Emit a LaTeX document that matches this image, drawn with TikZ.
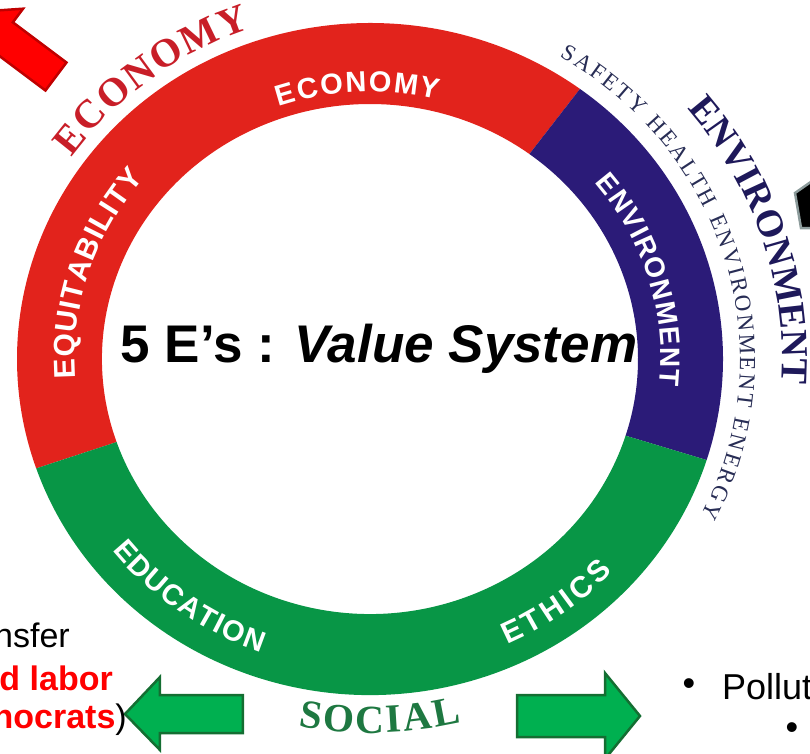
\documentclass[tikz,border=0pt]{standalone}
\usepackage{fontspec}
\setmainfont{Liberation Sans}
\newfontfamily\labserif{Liberation Serif}
\usetikzlibrary{shapes, arrows, calc, positioning, decorations.text}

\definecolor{ringred}{RGB}{226,35,28}
\definecolor{ringblue}{RGB}{43,27,120}
\definecolor{ringgreen}{RGB}{8,150,70}
\definecolor{ecored}{RGB}{200,30,40}
\definecolor{envnavy}{RGB}{30,25,90}
\definecolor{smallnavy}{RGB}{40,45,85}
\definecolor{socgreen}{RGB}{30,120,65}
\definecolor{arrowred}{RGB}{255,0,0}
\definecolor{arrowredline}{RGB}{192,0,0}
\definecolor{arrowgreen}{RGB}{0,176,80}
\definecolor{arrowgreenline}{RGB}{20,110,50}
\definecolor{boxgray}{RGB}{140,155,155}

% formats for the curved labels
\newcommand{\ringlab}[1]{\fontsize{#1}{#1}\selectfont\bfseries\color{white}}
\newcommand{\outlab}[2]{\fontsize{#1}{#1}\selectfont\labserif\bfseries\color{#2}}

\tikzset{
  arclabel/.style={decorate, decoration={text along path, text align=fit to path, text={#1}}},
  blockarrow/.style={line width=2.5pt, line join=miter},
  slidetext/.style={font=\fontsize{34}{40}\selectfont, inner sep=0pt},
}

\begin{document}
\begin{tikzpicture}[x=1pt, y=1pt]
  \useasboundingbox (-370,-394) rectangle (440,359);
  \clip (-370,-394) rectangle (440,359);
  \coordinate (O) at (0,0);

  % ring
  \fill [ringred] (53.5:353 and 336) arc [start angle=53.5, end angle=199, x radius=353, y radius=336]
    -- (199:268 and 255) arc [start angle=199, end angle=53.5, x radius=268, y radius=255] -- cycle;
  \fill [ringblue] (-17.5:353 and 336) arc [start angle=-17.5, end angle=53.5, x radius=353, y radius=336]
    -- (53.5:268 and 255) arc [start angle=53.5, end angle=-17.5, x radius=268, y radius=255] -- cycle;
  \fill [ringgreen] (199:353 and 336) arc [start angle=199, end angle=342.5, x radius=353, y radius=336]
    -- (342.5:268 and 255) arc [start angle=342.5, end angle=199, x radius=268, y radius=255] -- cycle;

  % labels on the ring
  \path [arclabel={|\ringlab{29}|ECONOMY}] (109:280 and 267) arc [start angle=109, end angle=76, x radius=280, y radius=267];
  \path [arclabel={|\ringlab{30}|EQUITABILITY}] (184:295 and 281) arc [start angle=184, end angle=140, x radius=295, y radius=281];
  \path [arclabel={|\ringlab{28}|ENVIRONMENT}] (39.5:291 and 277) arc [start angle=39.5, end angle=-5.5, x radius=291, y radius=277];
  \path [arclabel={|\ringlab{29}|EDUCATION}] (218:327 and 311) arc [start angle=218, end angle=250.5, x radius=327, y radius=311];
  \path [arclabel={|\ringlab{30}|ETHICS}] (-65.4:330 and 314) arc [start angle=-65.4, end angle=-42.6, x radius=330, y radius=314];

  % labels round the ring
  \path [arclabel={|\outlab{40}{ecored}|ECONOMY}] (144.7:366 and 349) arc [start angle=144.7, end angle=109, x radius=366, y radius=349];
  \path [arclabel={|\fontsize{23}{23}\selectfont\labserif\color{smallnavy}|SAFETY HEALTH ENVIRONMENT ENERGY}] (59.2:370 and 352) arc [start angle=59.2, end angle=-26.4, x radius=370, y radius=352];
  \path [arclabel={|\outlab{38}{envnavy}|ENVIRONMENT}] (39.7:412 and 392) arc [start angle=39.7, end angle=-3.6, x radius=412, y radius=392];
  \path [arclabel={|\outlab{40}{socgreen}|SOCIAL}] (259.5:393 and 374) arc [start angle=259.5, end angle=283.5, x radius=393, y radius=374];

  \node [anchor=base, inner sep=0pt, font=\fontsize{53}{60}\selectfont\bfseries] (title) at (9,-3) {5 E’s : \textit{Value System}};

  % arrows
  \begin{scope}[shift={(-314,282.5)}, rotate=143.13]
    \draw [blockarrow, draw=arrowredline, fill=arrowred] (0,-17.5) -- (67,-17.5) -- (67,-34.5) -- (107,0)
      -- (67,34.5) -- (67,17.5) -- (0,17.5) -- cycle;
  \end{scope}
  \draw [blockarrow, draw=arrowgreenline, fill=arrowgreen] (-245,-355) -- (-210,-318) -- (-210,-336) -- (-127,-336)
    -- (-127,-374) -- (-210,-374) -- (-210,-391) -- cycle;
  \draw [blockarrow, draw=arrowgreenline, fill=arrowgreen] (147,-336) -- (235,-336) -- (235,-314) -- (270,-357)
    -- (235,-400) -- (235,-378) -- (147,-378) -- cycle;
  \draw [blockarrow, draw=boxgray, fill=black] (425,166) -- (445,180) -- (445,131) -- (431,131) -- cycle;

  % cut slide text
  \node [slidetext, anchor=base east] (transfer) at (-300,-288) {nsfer};
  \node [slidetext, anchor=base east, text=red, font=\fontsize{34}{40}\selectfont\bfseries] (labor) at (-257,-331) {d labor};
  \node [slidetext, anchor=base east] (techno) at (-243,-369) {\textcolor{red}{\bfseries nocrats})};
  \node [slidetext, anchor=center, font=\fontsize{36}{40}\selectfont] (dot1) at (319,-328) {•};
  \node [slidetext, anchor=base west, font=\fontsize{36}{40}\selectfont] (pollut) at (352,-340) {Pollut};
  \node [slidetext, anchor=center, font=\fontsize{36}{40}\selectfont] (dot2) at (422,-372) {•};
\end{tikzpicture}
\end{document}
